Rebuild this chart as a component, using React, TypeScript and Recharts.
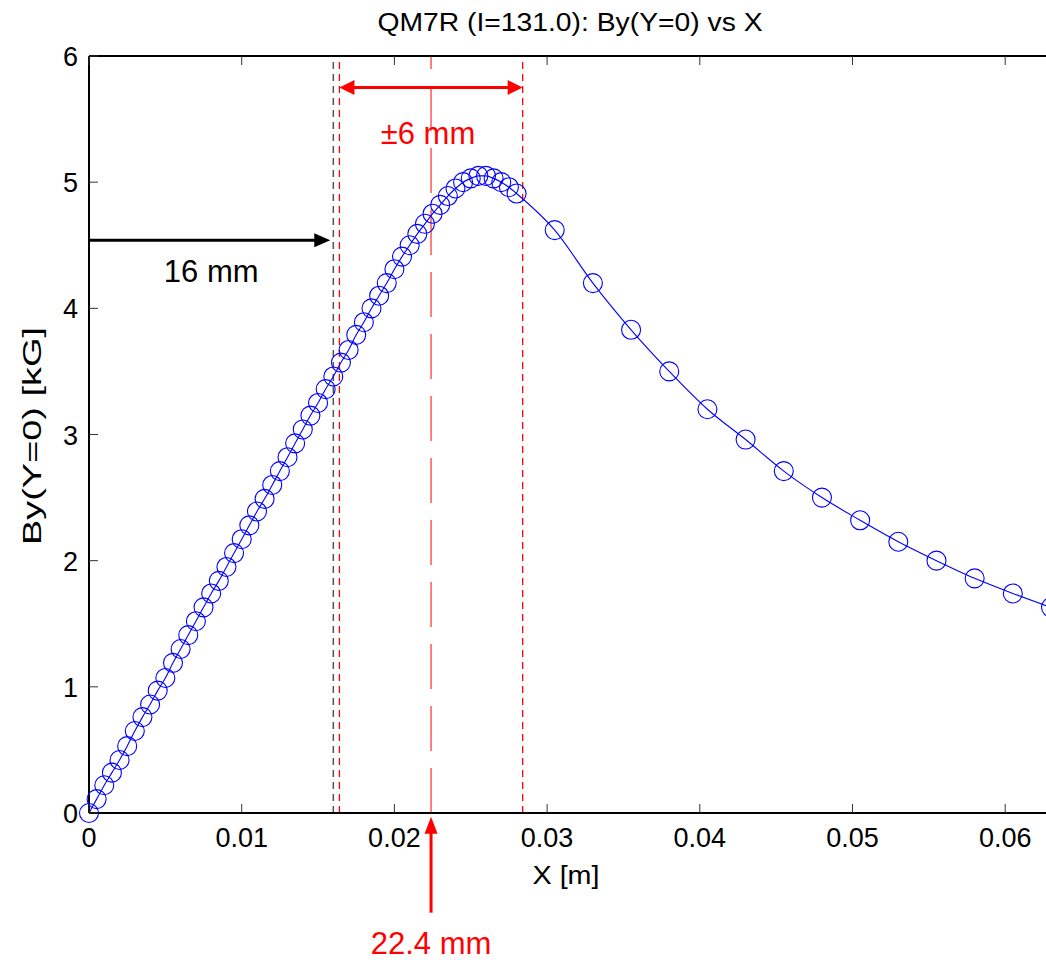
import { LineChart, Line, XAxis, YAxis, ReferenceLine, ReferenceDot } from "recharts";

// X positions [m] of the measured points
const xPos = [
  0, 0.0005, 0.001, 0.0015, 0.002, 0.0025, 0.003, 0.0035, 0.004, 0.0045,
  0.005, 0.0055, 0.006, 0.0065, 0.007, 0.0075, 0.008, 0.0085, 0.009, 0.0095,
  0.01, 0.0105, 0.011, 0.0115, 0.012, 0.0125, 0.013, 0.0135, 0.014, 0.0145,
  0.015, 0.0155, 0.016, 0.0165, 0.017, 0.0175, 0.018, 0.0185, 0.019, 0.0195,
  0.02, 0.0205, 0.021, 0.0215, 0.022, 0.0225, 0.023, 0.0235, 0.024, 0.0245,
  0.025, 0.0255, 0.026, 0.0265, 0.027, 0.0275, 0.028,
  0.0305, 0.033, 0.0355, 0.038, 0.0405, 0.043, 0.0455, 0.048, 0.0505, 0.053,
  0.0555, 0.058, 0.0605, 0.063,
];

// By(Y=0) [kG]
const byVals = [
  0, 0.11, 0.22, 0.32, 0.42, 0.53, 0.65, 0.76, 0.86, 0.97,
  1.07, 1.19, 1.3, 1.41, 1.52, 1.63, 1.74, 1.84, 1.95, 2.06,
  2.17, 2.28, 2.39, 2.49, 2.6, 2.71, 2.82, 2.93, 3.04, 3.15,
  3.25, 3.36, 3.46, 3.57, 3.67, 3.79, 3.89, 4.0, 4.1, 4.2,
  4.31, 4.41, 4.5, 4.59, 4.67, 4.75, 4.82, 4.89, 4.95, 5.0,
  5.03, 5.05, 5.05, 5.03, 5.0, 4.96, 4.91,
  4.62, 4.2, 3.83, 3.5, 3.2, 2.96, 2.71, 2.5, 2.32, 2.15,
  2.0, 1.86, 1.74, 1.63,
];

const xTicks = [0, 0.01, 0.02, 0.03, 0.04, 0.05, 0.06];
const yTicks = [0, 1, 2, 3, 4, 5, 6];

// marker positions [m]
const edgeX = 0.016;
const centerX = 0.0224;
const windowLo = 0.0164;
const windowHi = 0.0284;

const data = xPos.map((x, i) => ({ x, by: byVals[i] }));

const FONT = '"Liberation Sans", Arial, Helvetica, sans-serif';
const TICK_LEN = 9;

function BottomTick(props: any) {
  const { x, y, payload } = props;
  return (
    <g>
      <line x1={x} y1={y} x2={x} y2={y - TICK_LEN} stroke="#333" strokeWidth={1} />
      <text x={x} y={y + 34} textAnchor="middle" fontSize={27} fontFamily={FONT} fill="#000">
        {String(payload.value)}
      </text>
    </g>
  );
}

function TopTick(props: any) {
  const { x, y } = props;
  return <line x1={x} y1={y} x2={x} y2={y + TICK_LEN} stroke="#333" strokeWidth={1} />;
}

function LeftTick(props: any) {
  const { x, y, payload } = props;
  return (
    <g>
      <line x1={x} y1={y} x2={x + TICK_LEN} y2={y} stroke="#333" strokeWidth={1} />
      <text x={x - 11} y={y + 10} textAnchor="end" fontSize={27} fontFamily={FONT} fill="#000">
        {String(payload.value)}
      </text>
    </g>
  );
}

function RightTick(props: any) {
  const { x, y } = props;
  return <line x1={x} y1={y} x2={x - TICK_LEN} y2={y} stroke="#333" strokeWidth={1} />;
}

function makeArrow(color: string, width: number, headLen: number, headHalf: number, both: boolean) {
  return (props: any) => {
    const { x1, y1, x2, y2 } = props;
    const len = Math.hypot(x2 - x1, y2 - y1) || 1;
    const ux = (x2 - x1) / len;
    const uy = (y2 - y1) / len;
    const head = (tx: number, ty: number, dx: number, dy: number) => {
      const bx = tx - dx * headLen;
      const by = ty - dy * headLen;
      return `${tx},${ty} ${bx - dy * headHalf},${by + dx * headHalf} ${bx + dy * headHalf},${by - dx * headHalf}`;
    };
    const sx = both ? x1 + ux * (headLen - 2) : x1;
    const sy = both ? y1 + uy * (headLen - 2) : y1;
    return (
      <g>
        <line x1={sx} y1={sy} x2={x2 - ux * (headLen - 2)} y2={y2 - uy * (headLen - 2)} stroke={color} strokeWidth={width} />
        <polygon points={head(x2, y2, ux, uy)} fill={color} />
        {both ? <polygon points={head(x1, y1, -ux, -uy)} fill={color} /> : null}
      </g>
    );
  };
}

function makeText(label: string, color: string, size: number) {
  return (props: any) => (
    <text x={props.cx} y={props.cy + size * 0.36} textAnchor="middle" fontSize={size} fontFamily={FONT} fill={color}>
      {label}
    </text>
  );
}

function Dot(props: any) {
  const { cx, cy, index } = props;
  return <circle key={`d-${index}`} cx={cx} cy={cy} r={9.5} fill="none" stroke="#0000ff" strokeWidth={1.1} />;
}

export default function App() {
  return (
    <div
      style={{
        position: "absolute",
        left: 0,
        top: 0,
        width: 1046,
        height: 960,
        overflow: "hidden",
        background: "#fff",
      }}
    >
      <LineChart width={1100} height={960} data={data} margin={{ top: 50, right: 39, bottom: 107, left: 29 }}>
        <XAxis
          dataKey="x"
          type="number"
          domain={[0, 0.063]}
          ticks={xTicks}
          interval={0}
          tickSize={0}
          tickMargin={0}
          tick={BottomTick}
          axisLine={{ stroke: "#000", strokeWidth: 2 }}
          height={40}
          label={{
            content: (p: any) => (
              <text
                x={p.viewBox.x + p.viewBox.width / 2 - 4}
                y={p.viewBox.y + 71}
                textAnchor="middle"
                fontSize={26}
                fontFamily={FONT}
                fill="#000"
                textLength={67}
                lengthAdjust="spacingAndGlyphs"
              >
                X [m]
              </text>
            ),
          }}
        />
        <XAxis
          xAxisId="top"
          orientation="top"
          dataKey="x"
          type="number"
          domain={[0, 0.063]}
          ticks={xTicks}
          interval={0}
          tickSize={0}
          tickMargin={0}
          tick={TopTick}
          axisLine={{ stroke: "#000", strokeWidth: 2 }}
          height={6}
          label={{
            content: (p: any) => (
              <text
                x={p.viewBox.x + p.viewBox.width / 2}
                y={31}
                textAnchor="middle"
                fontSize={25}
                fontFamily={FONT}
                fill="#000"
                textLength={385}
                lengthAdjust="spacingAndGlyphs"
              >
                QM7R (I=131.0): By(Y=0) vs X
              </text>
            ),
          }}
        />
        <YAxis
          type="number"
          domain={[0, 6]}
          ticks={yTicks}
          interval={0}
          tickSize={0}
          tickMargin={0}
          tick={LeftTick}
          axisLine={{ stroke: "#000", strokeWidth: 2 }}
          width={60}
          label={{
            content: () => {
              const cx = 41;
              const cy = 436;
              return (
                <text
                  x={cx}
                  y={cy}
                  transform={`rotate(-90 ${cx} ${cy})`}
                  textAnchor="middle"
                  fontSize={25}
                  fontFamily={FONT}
                  fill="#000"
                  textLength={218}
                  lengthAdjust="spacingAndGlyphs"
                >
                  By(Y=0) [kG]
                </text>
              );
            },
          }}
        />
        <YAxis
          yAxisId="right"
          orientation="right"
          type="number"
          domain={[0, 6]}
          ticks={yTicks}
          interval={0}
          tickSize={0}
          tickMargin={0}
          tick={RightTick}
          axisLine={{ stroke: "#000", strokeWidth: 2 }}
          width={10}
        />

        <ReferenceLine x={edgeX} stroke="#555" strokeWidth={1.5} strokeDasharray="7 5" />
        <ReferenceLine x={windowLo} stroke="#ff0000" strokeWidth={1.3} strokeDasharray="7 5" />
        <ReferenceLine x={windowHi} stroke="#ff0000" strokeWidth={1.3} strokeDasharray="7 5" />
        <ReferenceLine x={centerX} stroke="#ff0000" strokeWidth={1} strokeDasharray="45 17" />

        <Line
          type="monotone"
          dataKey="by"
          stroke="#0000ff"
          strokeWidth={1.1}
          dot={Dot}
          activeDot={false}
          isAnimationActive={false}
        />

        <ReferenceLine
          segment={[{ x: 0, y: 4.54 }, { x: 0.0158, y: 4.54 }]}
          ifOverflow="visible"
          shape={makeArrow("#000", 3, 16, 7, false)}
        />
        <ReferenceLine
          segment={[{ x: windowLo, y: 5.75 }, { x: windowHi, y: 5.75 }]}
          ifOverflow="visible"
          shape={makeArrow("#ff0000", 3, 15, 7.5, true)}
        />
        <ReferenceLine
          segment={[{ x: centerX, y: -0.79 }, { x: centerX, y: -0.03 }]}
          ifOverflow="visible"
          shape={makeArrow("#ff0000", 3, 17, 6.5, false)}
        />

        <ReferenceDot x={0.008} y={4.3} r={0} ifOverflow="visible" shape={makeText("16 mm", "#000", 31)} />
        <ReferenceDot x={0.0222} y={5.39} r={0} ifOverflow="visible" shape={makeText("±6 mm", "#ff0000", 31)} />
        <ReferenceDot x={centerX} y={-1.03} r={0} ifOverflow="visible" shape={makeText("22.4 mm", "#ff0000", 31)} />
      </LineChart>
    </div>
  );
}
